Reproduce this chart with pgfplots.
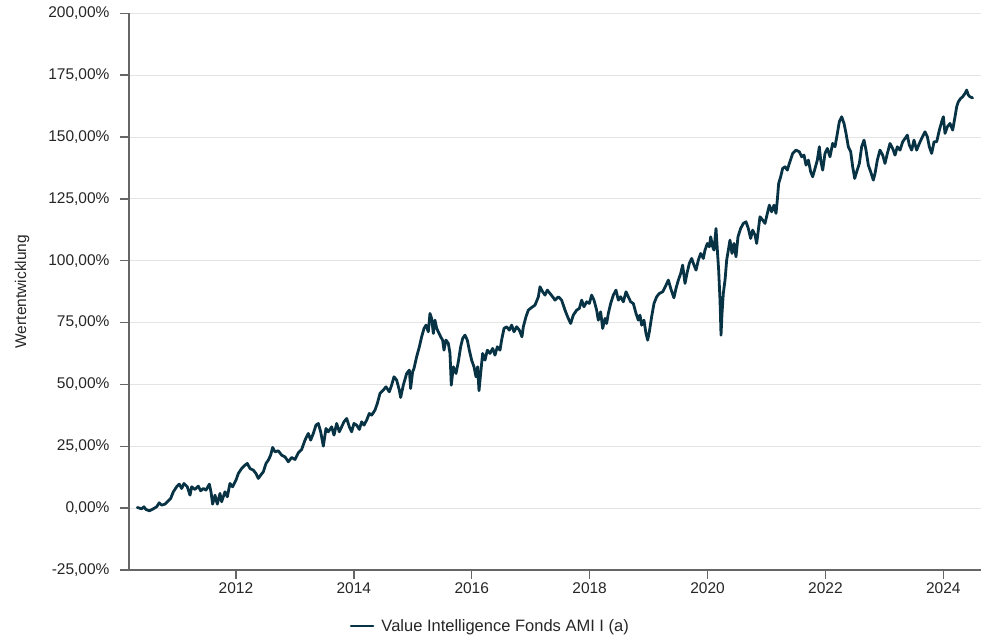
\documentclass[border=0pt]{standalone}
\usepackage{pgfplots}
\usepackage{pgfplotstable}
\pgfplotsset{compat=1.18}
\usepackage{fontspec}
\setmainfont{Liberation Sans}

\definecolor{fundline}{HTML}{073345}
\definecolor{axisgray}{HTML}{666666}
\definecolor{gridgray}{HTML}{E4E4E4}

% Wertentwicklung in %, Zeit in Jahren
\pgfplotstableread{
x y
2010.326 0.27
2010.400 -0.27
2010.439 0.54
2010.473 -0.54
2010.530 -1.08
2010.597 -0.27
2010.654 0.54
2010.699 2.16
2010.739 1.21
2010.795 1.62
2010.852 2.96
2010.892 3.91
2010.937 6.60
2010.993 8.62
2011.039 9.70
2011.078 7.95
2011.118 9.97
2011.174 8.62
2011.220 5.25
2011.248 8.62
2011.304 7.55
2011.361 8.89
2011.401 7.00
2011.446 7.95
2011.491 7.28
2011.548 9.70
2011.576 6.60
2011.604 1.62
2011.644 5.25
2011.683 1.62
2011.729 5.93
2011.757 2.56
2011.813 6.60
2011.853 4.58
2011.898 9.97
2011.943 8.62
2012.000 11.32
2012.040 14.01
2012.096 16.03
2012.153 17.38
2012.192 18.06
2012.238 16.03
2012.294 15.36
2012.339 14.01
2012.379 11.99
2012.419 13.34
2012.464 14.68
2012.509 18.06
2012.549 19.40
2012.588 21.42
2012.622 24.52
2012.662 22.77
2012.718 23.17
2012.775 21.42
2012.831 20.75
2012.888 18.73
2012.945 20.48
2013.001 19.67
2013.058 22.37
2013.114 23.71
2013.171 27.49
2013.227 30.18
2013.267 27.49
2013.312 30.18
2013.357 33.55
2013.397 34.22
2013.437 30.85
2013.482 25.06
2013.527 32.20
2013.567 30.85
2013.623 32.87
2013.663 29.51
2013.708 34.22
2013.753 30.85
2013.793 32.87
2013.832 34.90
2013.878 36.24
2013.923 32.87
2013.962 30.85
2014.002 34.22
2014.047 33.55
2014.093 31.80
2014.132 34.90
2014.172 33.55
2014.217 35.57
2014.262 38.27
2014.302 37.59
2014.358 39.61
2014.398 42.31
2014.443 46.35
2014.500 47.70
2014.545 49.04
2014.601 47.02
2014.641 49.72
2014.681 53.08
2014.726 51.74
2014.771 47.70
2014.794 44.73
2014.839 49.72
2014.896 54.43
2014.941 55.78
2014.963 48.37
2014.997 55.11
2015.020 56.45
2015.065 61.17
2015.111 65.21
2015.150 69.25
2015.190 72.62
2015.224 73.97
2015.263 71.27
2015.291 78.69
2015.320 76.67
2015.348 70.60
2015.376 75.99
2015.405 72.62
2015.433 71.27
2015.473 69.25
2015.506 67.91
2015.529 63.86
2015.563 67.91
2015.603 66.56
2015.631 62.52
2015.653 49.72
2015.687 57.13
2015.733 54.43
2015.772 59.15
2015.812 65.21
2015.846 68.58
2015.885 69.93
2015.925 67.91
2015.959 63.86
2015.998 59.82
2016.038 57.13
2016.072 53.08
2016.100 57.13
2016.123 47.43
2016.151 54.43
2016.185 62.52
2016.225 59.82
2016.264 63.86
2016.309 62.52
2016.355 64.54
2016.394 61.84
2016.434 65.21
2016.479 63.86
2016.507 67.91
2016.547 72.62
2016.592 73.30
2016.637 71.95
2016.677 73.97
2016.717 71.27
2016.762 73.30
2016.807 71.95
2016.852 69.25
2016.875 73.30
2016.920 77.34
2016.960 80.03
2017.016 81.11
2017.073 82.05
2017.130 85.40
2017.158 89.46
2017.203 87.44
2017.243 86.10
2017.282 88.12
2017.327 86.77
2017.373 85.42
2017.412 84.07
2017.469 85.42
2017.525 84.07
2017.582 80.03
2017.638 76.67
2017.678 74.64
2017.723 78.01
2017.780 80.03
2017.825 80.71
2017.865 84.07
2017.904 81.38
2017.950 83.40
2017.995 82.73
2018.034 86.10
2018.074 84.07
2018.119 80.03
2018.147 75.99
2018.187 79.36
2018.221 72.62
2018.261 76.67
2018.289 74.64
2018.317 78.69
2018.357 82.73
2018.402 86.10
2018.447 88.12
2018.487 84.07
2018.526 85.42
2018.572 83.40
2018.617 87.44
2018.656 85.42
2018.696 83.40
2018.741 82.73
2018.787 78.69
2018.826 75.99
2018.854 78.01
2018.883 73.97
2018.922 75.99
2018.956 70.60
2018.985 67.91
2019.013 71.27
2019.052 77.34
2019.092 82.73
2019.137 85.42
2019.182 86.77
2019.239 87.44
2019.296 90.14
2019.335 92.16
2019.380 88.50
2019.430 85.00
2019.465 88.79
2019.505 92.16
2019.545 94.85
2019.578 98.22
2019.618 90.81
2019.658 95.53
2019.691 98.89
2019.731 100.92
2019.771 98.22
2019.805 96.20
2019.844 100.24
2019.884 102.94
2019.929 100.92
2019.957 104.28
2019.997 106.98
2020.031 105.63
2020.054 109.67
2020.087 105.63
2020.110 104.28
2020.144 113.04
2020.167 104.28
2020.189 96.20
2020.212 84.07
2020.229 69.93
2020.246 78.69
2020.268 86.77
2020.297 92.16
2020.325 100.24
2020.353 104.28
2020.381 108.33
2020.415 102.94
2020.449 106.98
2020.483 101.59
2020.517 109.67
2020.562 113.04
2020.608 115.07
2020.653 115.74
2020.692 113.04
2020.732 109.00
2020.766 112.37
2020.806 110.35
2020.834 106.98
2020.862 112.37
2020.890 117.76
2020.936 116.41
2020.975 115.07
2021.015 119.11
2021.049 122.47
2021.088 119.78
2021.128 122.47
2021.162 119.11
2021.184 124.49
2021.207 131.23
2021.241 133.93
2021.275 137.30
2021.315 137.97
2021.354 136.62
2021.388 139.32
2021.445 143.36
2021.501 144.70
2021.558 144.03
2021.597 142.01
2021.637 142.68
2021.671 138.64
2021.711 140.66
2021.750 135.95
2021.784 133.93
2021.824 137.30
2021.863 140.66
2021.897 146.05
2021.920 140.66
2021.954 136.62
2021.993 143.36
2022.033 145.38
2022.078 142.01
2022.123 147.40
2022.163 146.05
2022.203 151.44
2022.236 156.16
2022.276 158.18
2022.316 155.48
2022.350 151.44
2022.389 146.05
2022.429 144.03
2022.463 137.97
2022.497 133.25
2022.531 135.95
2022.576 139.32
2022.615 146.05
2022.655 148.75
2022.689 144.70
2022.728 138.64
2022.768 135.95
2022.813 132.58
2022.842 135.27
2022.881 140.66
2022.926 144.70
2022.972 142.68
2023.011 139.32
2023.051 143.36
2023.096 147.40
2023.141 145.38
2023.181 142.68
2023.220 146.05
2023.266 144.70
2023.311 148.07
2023.351 149.42
2023.390 150.77
2023.424 146.73
2023.464 144.70
2023.503 148.75
2023.548 144.70
2023.594 147.40
2023.633 149.42
2023.690 152.11
2023.730 150.09
2023.763 146.05
2023.803 143.36
2023.843 148.07
2023.888 148.07
2023.933 152.79
2023.973 156.16
2024.001 158.18
2024.029 151.44
2024.069 154.14
2024.114 155.48
2024.159 152.79
2024.199 158.18
2024.227 162.22
2024.255 164.24
2024.295 165.59
2024.329 166.26
2024.368 167.61
2024.397 168.96
2024.425 166.94
2024.453 166.26
2024.498 165.80
}\fund

\begin{document}
\begin{tikzpicture}[x=1pt,y=1pt]
\useasboundingbox (0,0) rectangle (984,636);
\begin{axis}[
    at={(129pt,66pt)}, anchor=south west,
    scale only axis, width=852pt, height=556.7pt,
    xmin=2010.185, xmax=2024.64,
    ymin=-25, ymax=200,
    axis x line=bottom, axis y line=left,
    axis line style={-, draw=axisgray, line width=1.3pt},
    xtick={2012,2014,...,2024},
    xticklabels={2012,2014,2016,2018,2020,2022,2024},
    ytick={-25,0,...,200},
    yticklabels={{-25,00\%},{0,00\%},{25,00\%},{50,00\%},{75,00\%},{100,00\%},{125,00\%},{150,00\%},{175,00\%},{200,00\%}},
    tick align=outside, major tick length=9pt,
    tick style={draw=axisgray, line width=1.3pt},
    ymajorgrids, grid style={draw=gridgray, line width=1pt},
    ticklabel style={font=\fontsize{15.5}{18}\selectfont, text=black!85},
    yticklabel style={xshift=-7pt},
    ylabel={Wertentwicklung},
    every axis y label/.style={at={(axis description cs:-0.1256,0.5)}, anchor=center,
      rotate=90, font=\fontsize{15.5}{18}\selectfont, text=black!85},
    legend style={at={(axis description cs:0.424,-0.1005)}, anchor=center,
      draw=none, fill=none, font=\fontsize{16.5}{19}\selectfont, text=black!85,
      inner sep=0pt},
    legend image code/.code={
      \draw[line width=2.8pt, fundline] (0pt,0pt) -- (22pt,0pt);},
    clip=false,
]
\addplot[fundline, line width=2.8pt, line join=round, line cap=round] table[x=x, y=y] {\fund};
\addlegendentry{\hspace{5pt}Value Intelligence Fonds AMI I (a)}
\end{axis}
\end{tikzpicture}
\end{document}
